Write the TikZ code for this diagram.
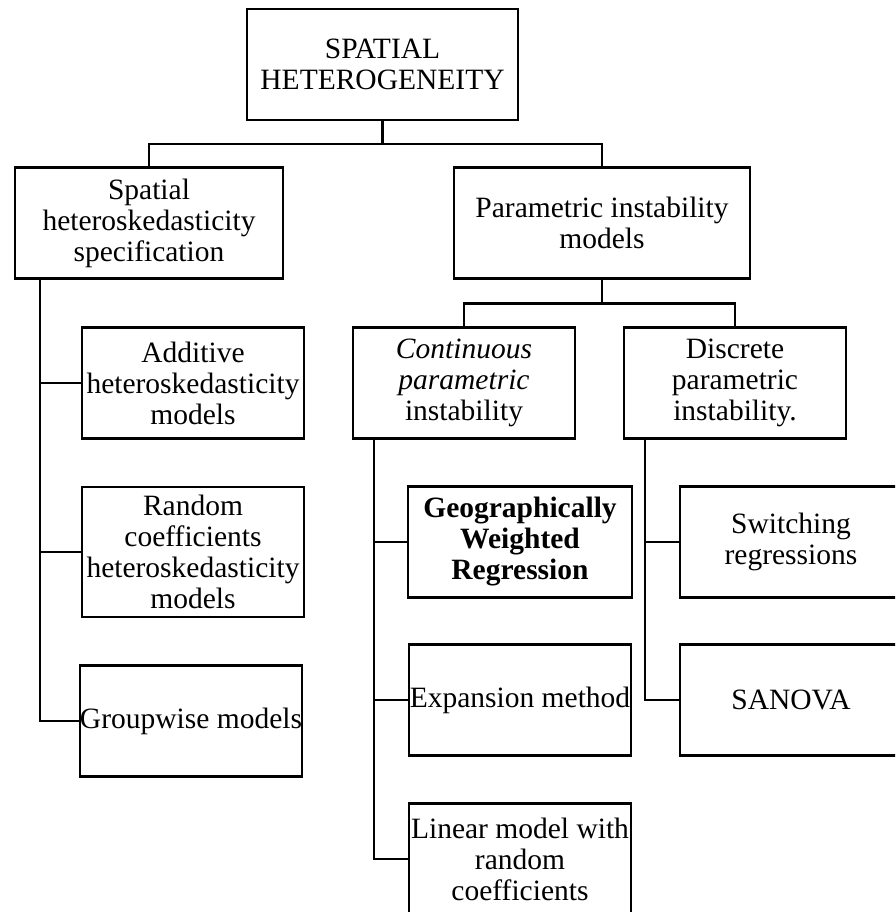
\documentclass[tikz,border=0pt]{standalone}
\usepackage{fontspec}
\setmainfont{Liberation Serif}
\newcommand{\boxfont}{\fontsize{29.5}{31}\selectfont}

\begin{document}
\begin{tikzpicture}[x=1pt, y=-1pt, every node/.style={font=\boxfont},
  box/.style={draw, line width=2.4pt, inner xsep=0pt, inner ysep=0pt, minimum height=111pt, minimum width=#1, align=center},
  box/.default=222pt,
  link/.style={line width=2.6pt}]
  \useasboundingbox (0,0) rectangle (895,912);
  \clip (0,0) rectangle (895,912);
  \node[box=271pt] (top) at (382.5,64.5) {SPATIAL\\HETEROGENEITY};
  \node[box=268pt] (spec) at (149,223) {Spatial\\heteroskedasticity\\specification};
  \node[box=296pt] (param) at (602,223) {Parametric instability\\models};
  \node[box] (add) at (193,383) {Additive\\heteroskedasticity\\models};
  \node[box, minimum height=130pt] (rand) at (193,552) {Random\\coefficients\\heteroskedasticity\\models};
  \node[box] (group) at (191,721) {Groupwise models};
  \node[box] (cont) at (464,383) {\textit{Continuous}\\\textit{parametric}\\instability};
  \node[box] (disc) at (735,383) {Discrete\\parametric\\instability.};
  \node[box=224pt] (gwr) at (520,542) {\textbf{Geographically}\\\textbf{Weighted}\\\textbf{Regression}};
  \node[box] (switch) at (791,542) {Switching\\regressions};
  \node[box] (expand) at (520,700) {Expansion method};
  \node[box] (sanova) at (791,700) {SANOVA};
  \node[box] (linear) at (520,859) {Linear model with\\random\\coefficients};
  % tree links
  \draw[link] (top.south) -- ++(0,23) -| (spec.north);
  \draw[link] (top.south) -- ++(0,23) -| (param.north);
  \draw[link] (param.south) -- ++(0,24) -| (cont.north);
  \draw[link] (param.south) -- ++(0,24) -| (disc.north);
  \coordinate (specfoot) at ([xshift=26pt]spec.south west);
  \draw[link] (specfoot) |- (add.west);
  \draw[link] (specfoot) |- (rand.west);
  \draw[link] (specfoot) |- (group.west);
  \coordinate (contfoot) at ([xshift=22pt]cont.south west);
  \draw[link] (contfoot) |- (gwr.west);
  \draw[link] (contfoot) |- (expand.west);
  \draw[link] (contfoot) |- (linear.west);
  \coordinate (discfoot) at ([xshift=22pt]disc.south west);
  \draw[link] (discfoot) |- (switch.west);
  \draw[link] (discfoot) |- (sanova.west);
\end{tikzpicture}
\end{document}
